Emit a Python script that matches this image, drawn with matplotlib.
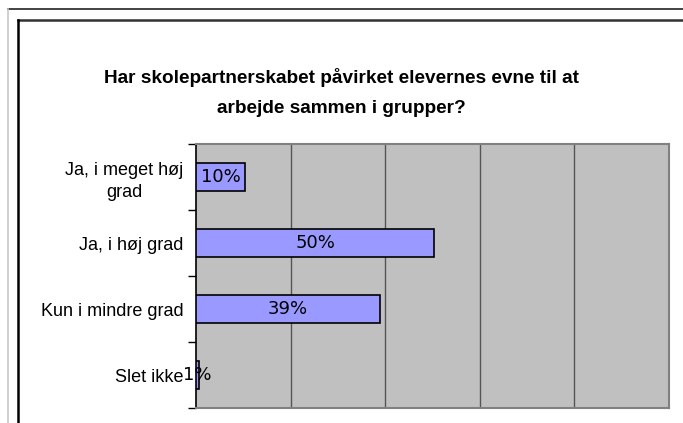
import matplotlib.pyplot as plt
from matplotlib.lines import Line2D
import numpy as np

categories = ['Ja, i meget høj\ngrad', 'Ja, i høj grad', 'Kun i mindre grad', 'Slet ikke']
values = [10.4, 50.4, 38.9, 0.7]
title = 'Har skolepartnerskabet påvirket elevernes evne til at\narbejde sammen i grupper?'

plt.rcParams['font.family'] = ['Liberation Sans', 'DejaVu Sans']

W, H = 683, 423
fig = plt.figure(figsize=(W / 100, H / 100), dpi=100)

# outer frames (chart is cropped at right and bottom)
fig.add_artist(Line2D([8 / W, 1], [1 - 9 / H, 1 - 9 / H], color='#222222', lw=1.2))
fig.add_artist(Line2D([8 / W, 8 / W], [0, 1 - 9 / H], color='#c8c8c8', lw=1.2))
fig.add_artist(Line2D([17.5 / W, 1], [1 - 20.5 / H, 1 - 20.5 / H], color='#333333', lw=1.8))
fig.add_artist(Line2D([17.5 / W, 17.5 / W], [0, 1 - 20.5 / H], color='black', lw=1.8))

ax = fig.add_axes([196 / W, 15 / H, (669 - 196) / W, (408 - 144) / H])
ax.set_facecolor('#c0c0c0')

y = np.arange(len(categories))
bars = ax.barh(y, values, height=0.42, color='#9999ff', edgecolor='black', linewidth=1.2, zorder=3)
for b, v in zip(bars, values):
    ax.text(b.get_x() + b.get_width() / 2, b.get_y() + b.get_height() / 2, f'{v:.0f}%',
            ha='center', va='center', fontsize=13, family='DejaVu Sans', zorder=4)

ax.set_xlim(0, 100)
ax.set_ylim(len(categories) - 0.5, -0.5)
ax.set_xticks([20, 40, 60, 80])
ax.xaxis.grid(True, color='#555555', lw=1, zorder=1)
ax.tick_params(axis='x', length=0, labelbottom=False)

ax.set_yticks(y)
ax.set_yticklabels(categories, fontsize=13, linespacing=1.35)
for lab in ax.get_yticklabels():
    lab.set_multialignment('center')
ax.tick_params(axis='y', which='major', length=0, pad=9)
ax.set_yticks(np.arange(len(categories) + 1) - 0.5, minor=True)
ax.tick_params(axis='y', which='minor', length=6, width=1, color='black')

for s in ['top', 'right', 'bottom']:
    ax.spines[s].set_color('#808080')
    ax.spines[s].set_linewidth(1.5)
ax.spines['left'].set_color('black')
ax.spines['left'].set_linewidth(1.2)

fig.text(341.5 / W, 1 - 92.5 / H, title, ha='center', va='center', fontsize=13.7,
         fontweight='bold', linespacing=1.95)

fig.savefig('out.png', dpi=100)
